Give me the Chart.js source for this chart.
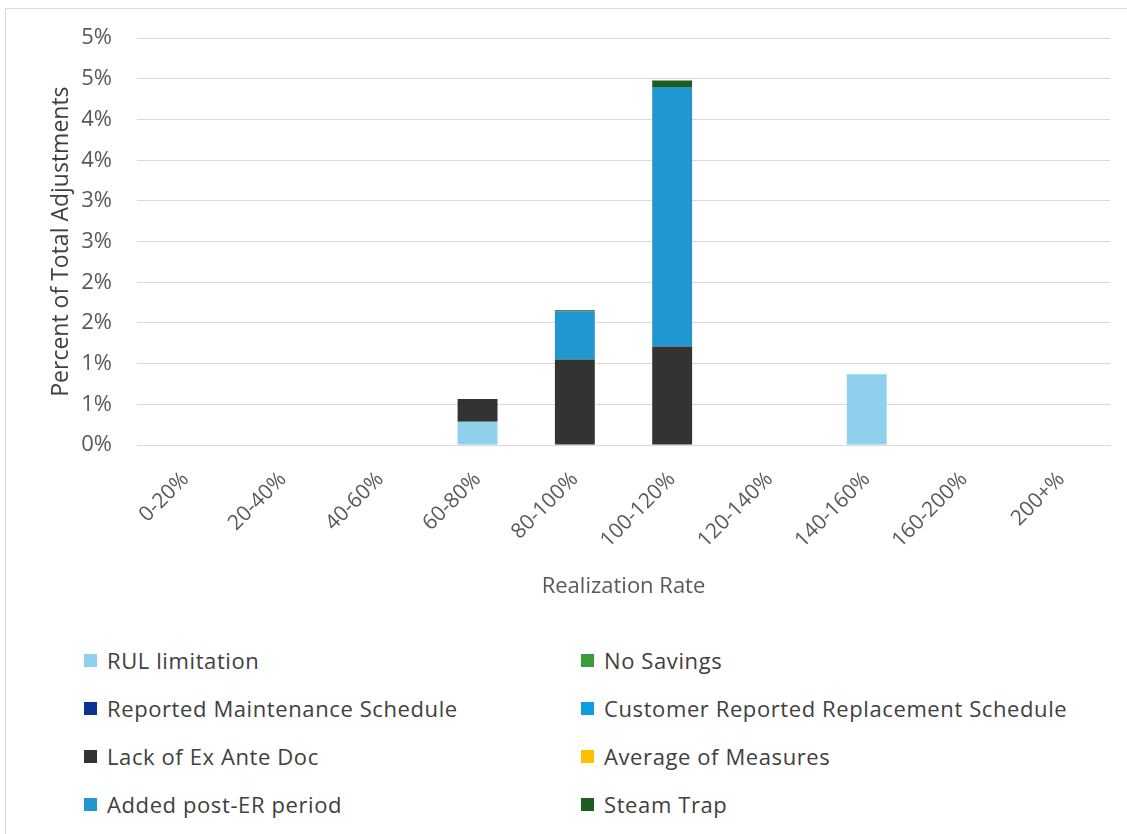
<!DOCTYPE html>
<html>
<head>
<meta charset="utf-8">
<script src="https://cdn.jsdelivr.net/npm/chart.js@4/dist/chart.umd.min.js"></script>
<style>
  html, body { margin: 0; padding: 0; background: #fff; }
  #wrap { position: relative; width: 1127px; height: 834px; overflow: hidden; }
  #frame { position: absolute; left: 5px; top: 8px; width: 1140px; height: 900px; border: 1px solid #d9d9d9; box-sizing: border-box; }
  #chart { position: absolute; left: 0; top: 0; }
  #legend { position: absolute; left: 84px; top: 636px; display: grid; grid-template-columns: 497px 500px; row-gap: 0; font-family: "Open Sans", Lato, sans-serif; font-size: 22px; letter-spacing: 0.6px; color: #404040; }
  #legend .item { height: 48px; display: flex; align-items: center; }
  #legend .box { width: 13px; height: 13px; margin-right: 10px; flex: none; }
</style>
</head>
<body>
<div id="wrap">
  <div id="frame"></div>
  <canvas id="chart" width="1127" height="612"></canvas>
  <div id="legend"></div>
</div>
<script>
  "use strict";

  // Data (percent of total adjustments)
  var categories = ["0-20%", "20-40%", "40-60%", "60-80%", "80-100%", "100-120%", "120-140%", "140-160%", "160-200%", "200+%"];
  var seriesNames = ["RUL limitation", "No Savings", "Reported Maintenance Schedule", "Customer Reported Replacement Schedule", "Lack of Ex Ante Doc", "Average of Measures", "Added post-ER period", "Steam Trap"];
  var seriesColors = ["#8fd0ec", "#3a9c3a", "#0b3394", "#0e9ddf", "#333333", "#ffc000", "#2196cf", "#1f5c1f"];

  var rulLimitation = [0, 0, 0, 0.285, 0, 0, 0, 0.87, 0, 0];
  var noSavings = [0, 0, 0, 0, 0, 0, 0, 0, 0, 0];
  var reportedMaintenance = [0, 0, 0, 0, 0, 0, 0, 0, 0, 0];
  var customerReplacement = [0, 0, 0, 0, 0, 0, 0, 0, 0, 0];
  var lackOfExAnteDoc = [0, 0, 0, 0.28, 1.05, 1.21, 0, 0, 0, 0];
  var averageOfMeasures = [0, 0, 0, 0, 0, 0, 0, 0, 0, 0];
  var addedPostEr = [0, 0, 0, 0, 0.59, 3.19, 0, 0, 0, 0];
  var steamTrap = [0, 0, 0, 0, 0.015, 0.08, 0, 0, 0, 0];

  var yTicksMax = 5;
  var yTicksStep = 0.5;

  var seriesValues = [rulLimitation, noSavings, reportedMaintenance, customerReplacement, lackOfExAnteDoc, averageOfMeasures, addedPostEr, steamTrap];

  var datasets = seriesNames.map(function (name, i) {
    return {
      label: name,
      data: seriesValues[i],
      backgroundColor: seriesColors[i],
      borderWidth: 0,
      barPercentage: 0.41,
      categoryPercentage: 1.0,
    };
  });

  var fontFamily = "'Open Sans', Lato, sans-serif";
  Chart.defaults.color = "#595959";
  Chart.defaults.font.family = fontFamily;

  var ctx = document.getElementById("chart").getContext("2d");
  var myChart = new Chart(ctx, {
    type: "bar",
    data: { labels: categories, datasets: datasets },
    options: {
      responsive: false,
      animation: false,
      layout: { padding: { left: 48, right: 17, top: 38, bottom: 0 } },
      plugins: {
        legend: { display: false },
        tooltip: { enabled: false },
      },
      scales: {
        x: {
          stacked: true,
          grid: { display: false },
          border: { display: true, color: "#d9d9d9", width: 1 },
          ticks: { font: { size: 21 }, color: "#595959", minRotation: 45, maxRotation: 45, padding: 14 },
          title: { display: true, text: "Realization Rate", font: { size: 22 }, color: "#595959", padding: { top: 0, bottom: 12 } },
          afterFit: function (scale) { scale.height = 612 - 445; },
        },
        y: {
          stacked: true,
          min: 0,
          max: yTicksMax,
          grid: { color: "#d9d9d9", lineWidth: 1, drawTicks: false },
          border: { display: false },
          ticks: {
            stepSize: yTicksStep,
            font: { size: 22 },
            color: "#595959",
            padding: 25,
            callback: function (v) { return Math.round(v) + "%"; },
          },
          title: { display: true, text: "Percent of Total Adjustments", font: { size: 23 }, color: "#404040", padding: 0 },
          afterFit: function (scale) { scale.width = 137 - 48; },
        },
      },
    },
  });

  // Legend in two columns, built from the chart's datasets
  var legendEl = document.getElementById("legend");
  myChart.data.datasets.forEach(function (ds) {
    var item = document.createElement("div");
    item.className = "item";
    var box = document.createElement("span");
    box.className = "box";
    box.style.background = ds.backgroundColor;
    var txt = document.createElement("span");
    txt.textContent = ds.label;
    item.appendChild(box);
    item.appendChild(txt);
    legendEl.appendChild(item);
  });
</script>
</body>
</html>
